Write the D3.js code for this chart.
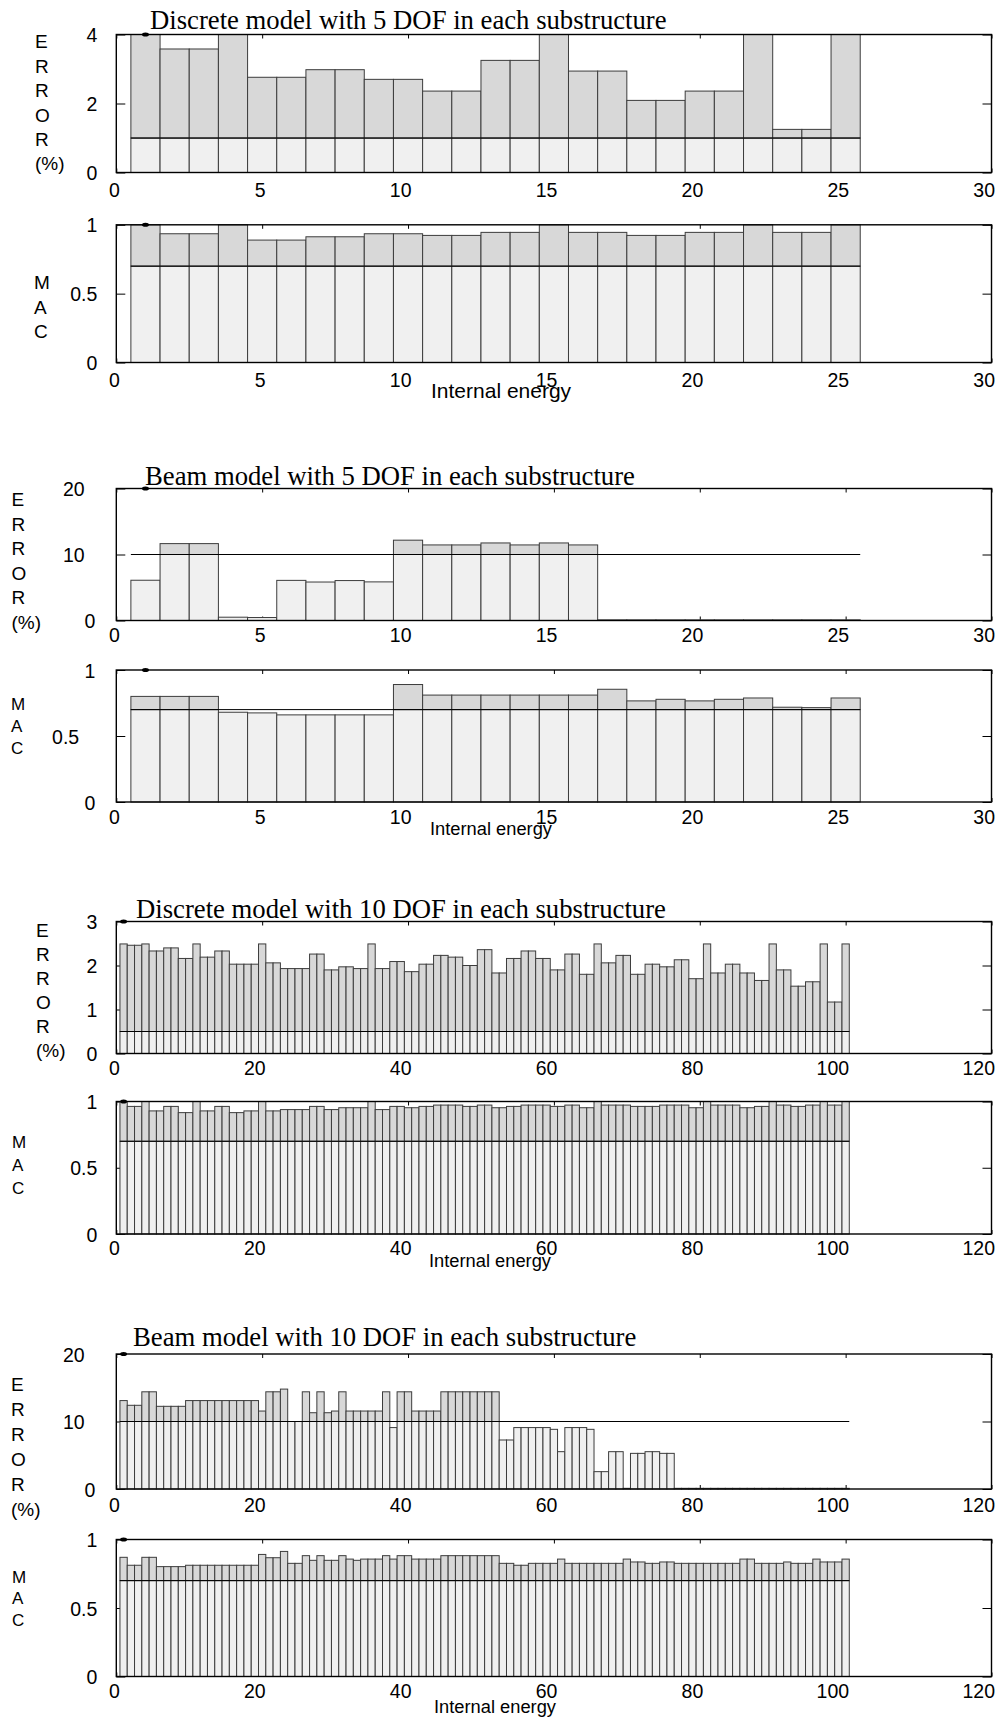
<!DOCTYPE html>
<html>
<head>
<meta charset="utf-8">
<title>Error and MAC per mode</title>
<script src="https://cdn.jsdelivr.net/npm/d3@7"></script>
<style>
  body { margin: 0; background: #fff; }
  svg { display: block; }
</style>
</head>
<body>
<svg id="chart" width="998" height="1719"></svg>
<script>
// one bar per mode, mode numbers 1..n on the "Internal energy" axis
const xTicks5 = [0, 5, 10, 15, 20, 25, 30];
const xTicks10 = [0, 20, 40, 60, 80, 100, 120];
const errTicks4 = [0, 2, 4];
const errTicks3 = [0, 1, 2, 3];
const errTicks20 = [0, 10, 20];
const macTicks = [0, 0.5, 1];

const titles = [
    "Discrete model with 5 DOF in each substructure",
    "Beam model with 5 DOF in each substructure",
    "Discrete model with 10 DOF in each substructure",
    "Beam model with 10 DOF in each substructure"
];
const errorLetters = ["E", "R", "R", "O", "R", "(%)"];
const macLetters = ["M", "A", "C"];
const xName = "Internal energy";

// acceptance limits drawn as the horizontal line
const errLimitDisc5 = 1;
const errLimitDisc10 = 0.5;
const errLimitBeam = 10;
const macLimit = 0.7;

const disc5Error = [4, 3.58, 3.58, 4, 2.76, 2.76, 2.98, 2.98, 2.70, 2.70,
    2.36, 2.36, 3.25, 3.25, 4, 2.94, 2.94, 2.09, 2.09, 2.36,
    2.36, 4, 1.25, 1.25, 4];
const disc5Mac = [1, 0.935, 0.935, 1, 0.889, 0.889, 0.913, 0.913, 0.935, 0.935,
    0.923, 0.923, 0.945, 0.945, 1, 0.945, 0.945, 0.923, 0.923, 0.945,
    0.945, 1, 0.945, 0.945, 1];

const beam5Error = [6.1, 11.65, 11.65, 0.5, 0.45, 6.08, 5.83, 6.05, 5.85, 12.17,
    11.45, 11.45, 11.75, 11.45, 11.75, 11.45, 0.1, 0.1, 0.1, 0.1,
    0.1, 0.1, 0.1, 0.1, 0.1];
const beam5Mac = [0.80, 0.80, 0.80, 0.68, 0.675, 0.66, 0.66, 0.66, 0.66, 0.89,
    0.81, 0.81, 0.81, 0.81, 0.81, 0.81, 0.854, 0.766, 0.778, 0.766,
    0.778, 0.788, 0.718, 0.715, 0.788];

const disc10Error = [2.49, 2.46, 2.46, 2.49, 2.33, 2.33, 2.40, 2.40, 2.16, 2.16,
    2.49, 2.19, 2.19, 2.33, 2.33, 2.03, 2.03, 2.03, 2.03, 2.49,
    2.06, 2.06, 1.93, 1.93, 1.93, 1.93, 2.26, 2.26, 1.90, 1.90,
    1.97, 1.97, 1.93, 1.93, 2.49, 1.93, 1.93, 2.09, 2.09, 1.86,
    1.86, 2.03, 2.03, 2.23, 2.23, 2.19, 2.19, 2.00, 2.00, 2.36,
    2.36, 1.83, 1.83, 2.16, 2.16, 2.33, 2.33, 2.16, 2.16, 1.90,
    1.90, 2.26, 2.26, 1.80, 1.80, 2.49, 2.06, 2.06, 2.23, 2.23,
    1.80, 1.80, 2.03, 2.03, 1.97, 1.97, 2.13, 2.13, 1.70, 1.70,
    2.49, 1.83, 1.83, 2.03, 2.03, 1.83, 1.83, 1.66, 1.66, 2.49,
    1.90, 1.90, 1.53, 1.53, 1.63, 1.63, 2.49, 1.17, 1.17, 2.49];
const disc10Mac = [1, 0.963, 0.963, 1, 0.929, 0.929, 0.963, 0.963, 0.916, 0.916,
    1, 0.929, 0.929, 0.963, 0.963, 0.916, 0.916, 0.929, 0.929, 1,
    0.929, 0.929, 0.939, 0.939, 0.939, 0.939, 0.963, 0.963, 0.939, 0.939,
    0.953, 0.953, 0.953, 0.953, 1, 0.939, 0.939, 0.963, 0.963, 0.953,
    0.953, 0.963, 0.963, 0.973, 0.973, 0.973, 0.973, 0.963, 0.963, 0.973,
    0.973, 0.953, 0.953, 0.963, 0.963, 0.973, 0.973, 0.973, 0.973, 0.963,
    0.963, 0.973, 0.973, 0.953, 0.953, 1, 0.973, 0.973, 0.973, 0.973,
    0.963, 0.963, 0.963, 0.963, 0.973, 0.973, 0.973, 0.973, 0.953, 0.953,
    1, 0.973, 0.973, 0.973, 0.973, 0.953, 0.953, 0.963, 0.963, 1,
    0.973, 0.973, 0.963, 0.963, 0.973, 0.973, 1, 0.973, 0.973, 1];

const beam10Error = [13.1, 12.4, 12.4, 14.4, 14.4, 12.25, 12.25, 12.25, 12.25, 13.1,
    13.1, 13.1, 13.1, 13.1, 13.1, 13.1, 13.1, 13.1, 13.1, 11.55,
    14.4, 14.4, 14.8, 10.0, 10.0, 14.4, 11.3, 14.4, 11.3, 11.55,
    14.4, 11.55, 11.55, 11.55, 11.55, 11.55, 14.4, 9.1, 14.4, 14.4,
    11.55, 11.55, 11.55, 11.55, 14.4, 14.4, 14.4, 14.4, 14.4, 14.4,
    14.4, 14.4, 7.26, 7.26, 9.1, 9.1, 9.1, 9.1, 9.1, 8.84,
    5.53, 9.1, 9.1, 9.1, 8.84, 2.57, 2.57, 5.53, 5.53, 0.1,
    5.28, 5.28, 5.53, 5.53, 5.28, 5.28, 0.1, 0.1, 0.1, 0.1,
    0.1, 0.1, 0.1, 0.1, 0.1, 0.1, 0.1, 0.1, 0.1, 0.1,
    0.1, 0.1, 0.1, 0.1, 0.1, 0.1, 0.1, 0.1, 0.1, 0.1];
const beam10Mac = [0.870, 0.812, 0.812, 0.870, 0.870, 0.802, 0.802, 0.802, 0.802, 0.812,
    0.812, 0.812, 0.812, 0.812, 0.812, 0.812, 0.812, 0.812, 0.812, 0.891,
    0.867, 0.867, 0.913, 0.826, 0.826, 0.882, 0.848, 0.882, 0.848, 0.848,
    0.882, 0.857, 0.848, 0.857, 0.857, 0.857, 0.882, 0.857, 0.882, 0.882,
    0.857, 0.857, 0.857, 0.857, 0.882, 0.882, 0.882, 0.882, 0.882, 0.882,
    0.882, 0.882, 0.826, 0.826, 0.812, 0.812, 0.826, 0.826, 0.826, 0.826,
    0.857, 0.826, 0.826, 0.826, 0.826, 0.826, 0.826, 0.826, 0.826, 0.857,
    0.836, 0.836, 0.826, 0.826, 0.836, 0.836, 0.826, 0.826, 0.826, 0.826,
    0.826, 0.826, 0.826, 0.826, 0.826, 0.857, 0.857, 0.826, 0.826, 0.826,
    0.826, 0.836, 0.826, 0.826, 0.826, 0.857, 0.836, 0.836, 0.836, 0.857];

const sansFont = '"Liberation Sans", Arial, Helvetica, sans-serif';
const serifFont = '"Liberation Serif", "Times New Roman", Times, serif';
const plotLeft = 116.3, plotRight = 991.5;
const lowFill = "#f0f0f0", highFill = "#d8d8d8";

let panels = [
    {vals: disc5Error, limit: errLimitDisc5, yMax: 4, yTicks: errTicks4, xMax: 30, xTicks: xTicks5,
        top: 34.5, bottom: 172.5, tickDy: 24.5, yShift: false,
        title: titles[0], titleX: 150, titleY: 28.5,
        letters: errorLetters, lx: 35, ly: 48.3, lstep: 24.4, lsize: 19},
    {vals: disc5Mac, limit: macLimit, yMax: 1, yTicks: macTicks, xMax: 30, xTicks: xTicks5,
        top: 224.8, bottom: 362.5, tickDy: 24.5, yShift: false,
        letters: macLetters, lx: 34, ly: 289, lstep: 24.6, lsize: 19,
        xlabelX: 431, xlabelDy: 35, xlabelSize: 21},
    {vals: beam5Error, limit: errLimitBeam, yMax: 20, yTicks: errTicks20, xMax: 30, xTicks: xTicks5,
        top: 488.5, bottom: 620.5, tickDy: 21.5, yShift: true,
        title: titles[1], titleX: 145, titleY: 485,
        letters: errorLetters, lx: 11.5, ly: 506, lstep: 24.5, lsize: 19},
    {vals: beam5Mac, limit: macLimit, yMax: 1, yTicks: macTicks, xMax: 30, xTicks: xTicks5,
        top: 670, bottom: 802, tickDy: 22, yShift: true,
        letters: macLetters, lx: 11, ly: 709.5, lstep: 22, lsize: 17,
        xlabelX: 430, xlabelDy: 33, xlabelSize: 18.3},
    {vals: disc10Error, limit: errLimitDisc10, yMax: 3, yTicks: errTicks3, xMax: 120, xTicks: xTicks10,
        top: 921.5, bottom: 1053.5, tickDy: 21.5, yShift: false,
        title: titles[2], titleX: 136, titleY: 917.5,
        letters: errorLetters, lx: 36, ly: 936.5, lstep: 24, lsize: 19},
    {vals: disc10Mac, limit: macLimit, yMax: 1, yTicks: macTicks, xMax: 120, xTicks: xTicks10,
        top: 1101.5, bottom: 1234, tickDy: 21, yShift: false,
        letters: macLetters, lx: 12, ly: 1147.5, lstep: 23, lsize: 17,
        xlabelX: 429, xlabelDy: 33, xlabelSize: 18.3},
    {vals: beam10Error, limit: errLimitBeam, yMax: 20, yTicks: errTicks20, xMax: 120, xTicks: xTicks10,
        top: 1354, bottom: 1489, tickDy: 22.5, yShift: true,
        title: titles[3], titleX: 133, titleY: 1346,
        letters: errorLetters, lx: 11, ly: 1390.5, lstep: 25, lsize: 19},
    {vals: beam10Mac, limit: macLimit, yMax: 1, yTicks: macTicks, xMax: 120, xTicks: xTicks10,
        top: 1539.5, bottom: 1676.5, tickDy: 21.5, yShift: false,
        letters: macLetters, lx: 12, ly: 1582.5, lstep: 21.5, lsize: 17,
        xlabelX: 434, xlabelDy: 36, xlabelSize: 18.3}
];

let svg = d3.select("#chart");
panels.forEach(drawPanel);

function drawPanel(p) {
    let x = d3.scaleLinear().domain([0, p.xMax]).range([plotLeft, plotRight]);
    let y = d3.scaleLinear().domain([0, p.yMax]).range([p.bottom, p.top]);
    let g = svg.append("g");
    let n = p.vals.length;

    // ticks point inward on every side and sit under the bars
    let leftAxis = g.append("g").attr("transform", "translate(" + plotLeft + ",0)")
        .call(d3.axisLeft(y).tickValues(p.yTicks).tickSize(-9).tickFormat(d => String(d)));
    let rightAxis = g.append("g").attr("transform", "translate(" + plotRight + ",0)")
        .call(d3.axisRight(y).tickValues(p.yTicks).tickSize(-9).tickFormat(""));
    let bottomAxis = g.append("g").attr("transform", "translate(0," + p.bottom + ")")
        .call(d3.axisBottom(x).tickValues(p.xTicks).tickSize(-4).tickFormat(d => String(d)));
    let topAxis = g.append("g").attr("transform", "translate(0," + p.top + ")")
        .call(d3.axisTop(x).tickValues(p.xTicks).tickSize(-4).tickFormat(""));
    [leftAxis, rightAxis, bottomAxis, topAxis].forEach(a => {
        a.select(".domain").remove();
        a.attr("font-family", sansFont).attr("font-size", 19.5).attr("color", "#000");
    });
    bottomAxis.selectAll("text")
        .attr("text-anchor", "end")
        .attr("x", 3)
        .attr("y", p.tickDy)
        .attr("dy", null);
    leftAxis.selectAll("text")
        .attr("text-anchor", "end")
        .attr("dy", "0.36em")
        .attr("x", function () {
            if (p.yShift) {
                return -10 - this.getComputedTextLength();
            }
            return -19;
        });

    // light part up to the limit, darker part above it
    let bars = g.append("g").attr("stroke", "#3c3c3c").attr("stroke-width", 1);
    bars.selectAll("rect.low").data(p.vals)
        .enter().append("rect")
        .attr("class", "low")
        .attr("x", (d, i) => x(i + 0.5))
        .attr("width", (d, i) => x(i + 1.5) - x(i + 0.5))
        .attr("y", d => y(Math.min(d, p.limit)))
        .attr("height", d => y(0) - y(Math.min(d, p.limit)))
        .attr("fill", lowFill);
    let above = p.vals.map((d, i) => ({v: Math.min(d, p.yMax), i: i})).filter(o => o.v > p.limit);
    bars.selectAll("rect.high").data(above)
        .enter().append("rect")
        .attr("class", "high")
        .attr("x", o => x(o.i + 0.5))
        .attr("width", o => x(o.i + 1.5) - x(o.i + 0.5))
        .attr("y", o => y(o.v))
        .attr("height", o => y(p.limit) - y(o.v))
        .attr("fill", highFill);

    g.append("line")
        .attr("x1", x(0.5)).attr("x2", x(n + 0.5))
        .attr("y1", y(p.limit)).attr("y2", y(p.limit))
        .attr("stroke", "#000").attr("stroke-width", 1);

    g.append("rect")
        .attr("x", plotLeft).attr("y", p.top)
        .attr("width", plotRight - plotLeft).attr("height", p.bottom - p.top)
        .attr("fill", "none").attr("stroke", "#000").attr("stroke-width", 1.4);

    g.append("ellipse")
        .attr("cx", x(1)).attr("cy", y(p.yMax))
        .attr("rx", 3.5).attr("ry", 2)
        .attr("fill", "#000");

    if (p.title) {
        g.append("text")
            .attr("x", p.titleX).attr("y", p.titleY)
            .attr("font-family", serifFont).attr("font-size", 26.7)
            .text(p.title);
    }

    g.append("g").selectAll("text").data(p.letters)
        .enter().append("text")
        .attr("x", p.lx)
        .attr("y", (d, i) => p.ly + i * p.lstep)
        .attr("font-family", sansFont)
        .attr("font-size", p.lsize)
        .text(d => d);

    if (p.xlabelX) {
        g.append("text")
            .attr("x", p.xlabelX).attr("y", p.bottom + p.xlabelDy)
            .attr("font-family", sansFont).attr("font-size", p.xlabelSize)
            .text(xName);
    }
}
</script>
</body>
</html>
